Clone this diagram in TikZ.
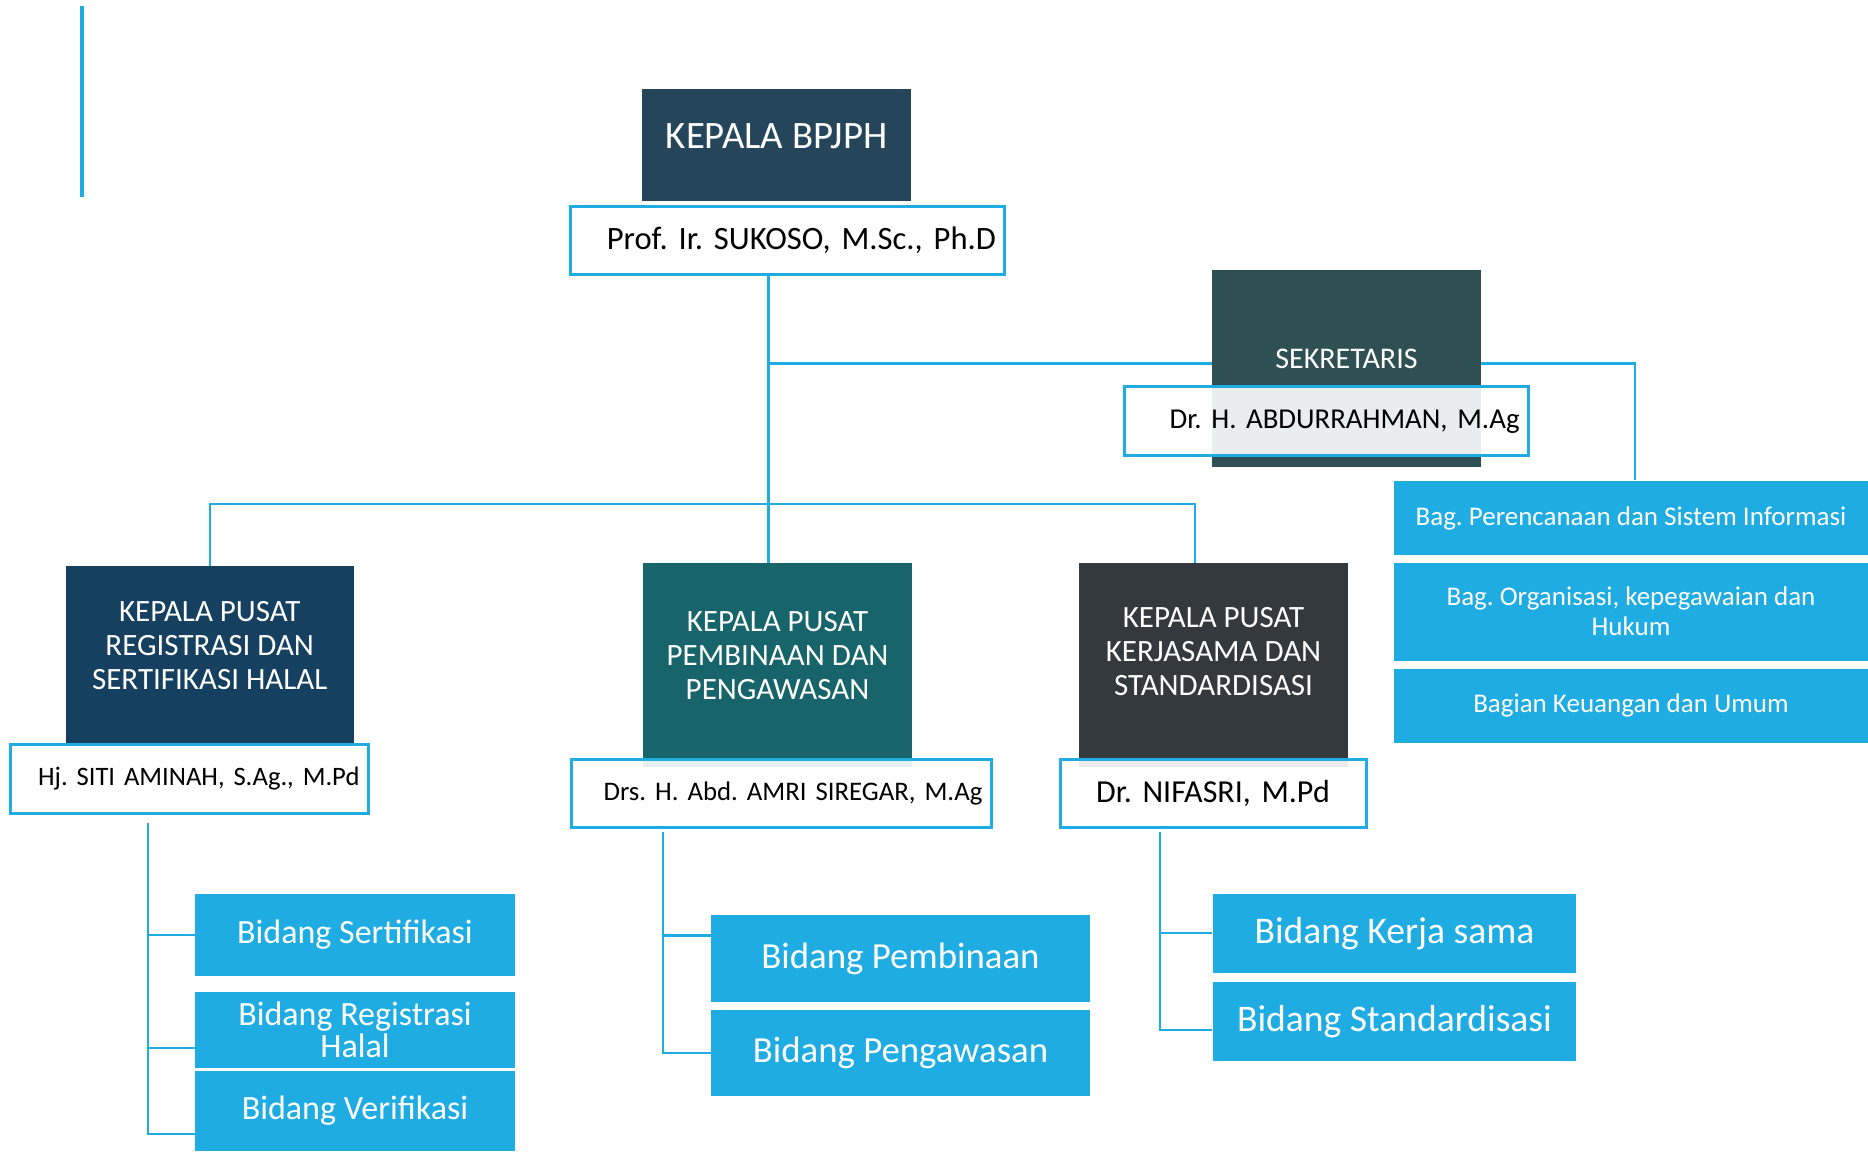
\documentclass[tikz,border=0pt]{standalone}
\usepackage{fontspec}
\setmainfont{Carlito}
\usepackage{tikz}
\usetikzlibrary{positioning}
\usetikzlibrary{calc}
\usepackage{xcolor}
\definecolor{linkblue}{HTML}{1EACE2}
\definecolor{bpjphcol}{HTML}{25455A}
\definecolor{sekcol}{HTML}{2F5053}
\definecolor{regcol}{HTML}{15405F}
\definecolor{pembcol}{HTML}{17656A}
\definecolor{kerjcol}{HTML}{33393D}
\frenchspacing

\begin{document}
\begin{tikzpicture}[
  x=0.5pt, y=-0.5pt,
  headbox/.style={fill=#1, inner sep=0pt},
  headtext/.style={text=white, align=center},
  namebox/.style={draw=linkblue, line width=1.5pt, fill=white, fill opacity=0.9, text opacity=1, inner xsep=4.25pt, inner ysep=0pt},
  unitbox/.style={fill=linkblue, text=white, align=center, inner sep=0pt},
  link/.style={draw=linkblue, line width=1.1pt}
]
\useasboundingbox (0,0) rectangle (1868,1151);

% Side bar
\draw[linkblue, line width=1.7pt] (82,6) -- (82,197);

% Head boxes
\node[headbox=bpjphcol, minimum width=134.5pt, minimum height=56pt,
  label={[headtext, font=\fontsize{19.4}{22}\selectfont, yshift=4.5pt]center:KEPALA BPJPH}] (kepala) at (776.5,145) {};
\node[headbox=sekcol, minimum width=134.5pt, minimum height=98.5pt,
  label={[headtext, font=\fontsize{15}{17}\selectfont, yshift=4.75pt]center:SEKRETARIS}] (sekr) at (1346.5,368.5) {};
\node[headbox=regcol, minimum width=144.25pt, minimum height=88.5pt,
  label={[headtext, font=\fontsize{15.5}{17}\selectfont, yshift=4.25pt]center:{KEPALA PUSAT\\REGISTRASI DAN\\SERTIFIKASI HALAL}}] (reg) at (209.75,654.5) {};
\node[headbox=pembcol, minimum width=134.5pt, minimum height=102pt,
  label={[headtext, font=\fontsize{15.5}{17}\selectfont, yshift=4.5pt]center:{KEPALA PUSAT\\PEMBINAAN DAN\\PENGAWASAN}}] (pemb) at (777.5,665) {};
\node[headbox=kerjcol, minimum width=134.5pt, minimum height=102pt,
  label={[headtext, font=\fontsize{15.5}{17}\selectfont, yshift=6.5pt]center:{KEPALA PUSAT\\KERJASAMA DAN\\STANDARDISASI}}] (kerj) at (1213.5,665) {};

% Name boxes
\node[namebox, text width=208.5pt, align=right, minimum height=34.3pt, font=\fontsize{16.3}{19}\selectfont] (kepalaname) at (787.5,240.3) {Prof. Ir. SUKOSO, M.Sc., Ph.D};
\node[namebox, text width=193.2pt, align=right, minimum height=34.65pt, font=\fontsize{14.4}{17}\selectfont] (sekname) at (1326.3,421.3) {Dr. H. ABDURRAHMAN, M.Ag};
\node[namebox, text width=170.4pt, align=right, minimum height=34.5pt, font=\fontsize{13.3}{16}\selectfont] (regname) at (189.1,778.5) {Hj. SITI AMINAH, S.Ag., M.Pd};
\node[namebox, text width=201.5pt, align=right, minimum height=34pt, font=\fontsize{13.4}{16}\selectfont] (pembname) at (781,793) {Drs. H. Abd. AMRI SIREGAR, M.Ag};
\node[namebox, text width=144.5pt, align=center, minimum height=34pt, font=\fontsize{16}{19}\selectfont] (kerjname) at (1213,793) {Dr. NIFASRI, M.Pd};

% Secretariat units
\node[unitbox, minimum width=237pt, minimum height=37.3pt, font=\fontsize{13.5}{15}\selectfont] (bag1) at (1631,518) {Bag. Perencanaan dan Sistem Informasi};
\node[unitbox, minimum width=237pt, minimum height=49pt, font=\fontsize{13.5}{15}\selectfont] (bag2) at (1631,611.7) {Bag. Organisasi, kepegawaian dan\\Hukum};
\node[unitbox, minimum width=237pt, minimum height=37pt, font=\fontsize{13.5}{15}\selectfont] (bag3) at (1631,705.7) {Bagian Keuangan dan Umum};

% Bidang units
\node[unitbox, minimum width=160pt, minimum height=41.1pt, font=\fontsize{17}{19}\selectfont] (bsert) at (355,934.6) {Bidang Sertifikasi};
\node[unitbox, minimum width=160pt, minimum height=38pt, font=\fontsize{17}{16.3}\selectfont] (breg) at (355,1030) {Bidang Registrasi\\Halal};
\node[unitbox, minimum width=160pt, minimum height=40pt, font=\fontsize{17}{19}\selectfont] (bver) at (355,1111) {Bidang Verifikasi};
\node[unitbox, minimum width=189.5pt, minimum height=43.5pt, font=\fontsize{18.4}{21}\selectfont] (bpemb) at (900.5,958.5) {Bidang Pembinaan};
\node[unitbox, minimum width=189.5pt, minimum height=43pt, font=\fontsize{18.4}{21}\selectfont] (bpeng) at (900.5,1053) {Bidang Pengawasan};
\node[unitbox, minimum width=181.9pt, minimum height=39.75pt, font=\fontsize{18.8}{21}\selectfont] (bkerja) at (1394.5,933.25) {Bidang Kerja sama};
\node[unitbox, minimum width=181.9pt, minimum height=39.75pt, font=\fontsize{18.8}{21}\selectfont] (bstand) at (1394.5,1021.25) {Bidang Standardisasi};

% Main connectors
\coordinate (sekjoint) at (768.5,363.5);
\coordinate (bagjoint) at (1635,363.5);
\coordinate (bar) at (768.5,504);
\coordinate (kerjjoint) at (1195,504);
\draw[link] (kepalaname.south -| bar) -- (pemb.north -| bar);
\draw[link] (sekjoint) -- (sekjoint -| sekr.west);
\draw[link] (sekjoint -| sekr.east) -- (bagjoint) -- (bagjoint |- bag1.north);
\draw[link] (reg.north) |- (kerjjoint) -- (kerjjoint |- kerj.north);

% Registrasi branch
\coordinate (regspine) at (148,822.5);
\coordinate (regmid) at (148,1047.8);
\coordinate (regend) at (148,1134);
\draw[link] (regspine) -- (regend) -- (regend -| bver.west);
\draw[link] (regspine |- bsert.west) -- (bsert.west);
\draw[link] (regmid) -- (regmid -| breg.west);

% Pembinaan branch
\coordinate (pembspine) at (663,831.5);
\coordinate (pembmid) at (663,935.5);
\draw[link] (pembspine) |- (bpeng.west);
\draw[link] (pembmid) -- (pembmid -| bpemb.west);

% Kerjasama branch
\coordinate (kerjspine) at (1160,831.5);
\coordinate (kerjend) at (1160,1030);
\draw[link] (kerjspine) -- (kerjend) -- (kerjend -| bstand.west);
\draw[link] (kerjspine |- bkerja.west) -- (bkerja.west);

\end{tikzpicture}
\end{document}
